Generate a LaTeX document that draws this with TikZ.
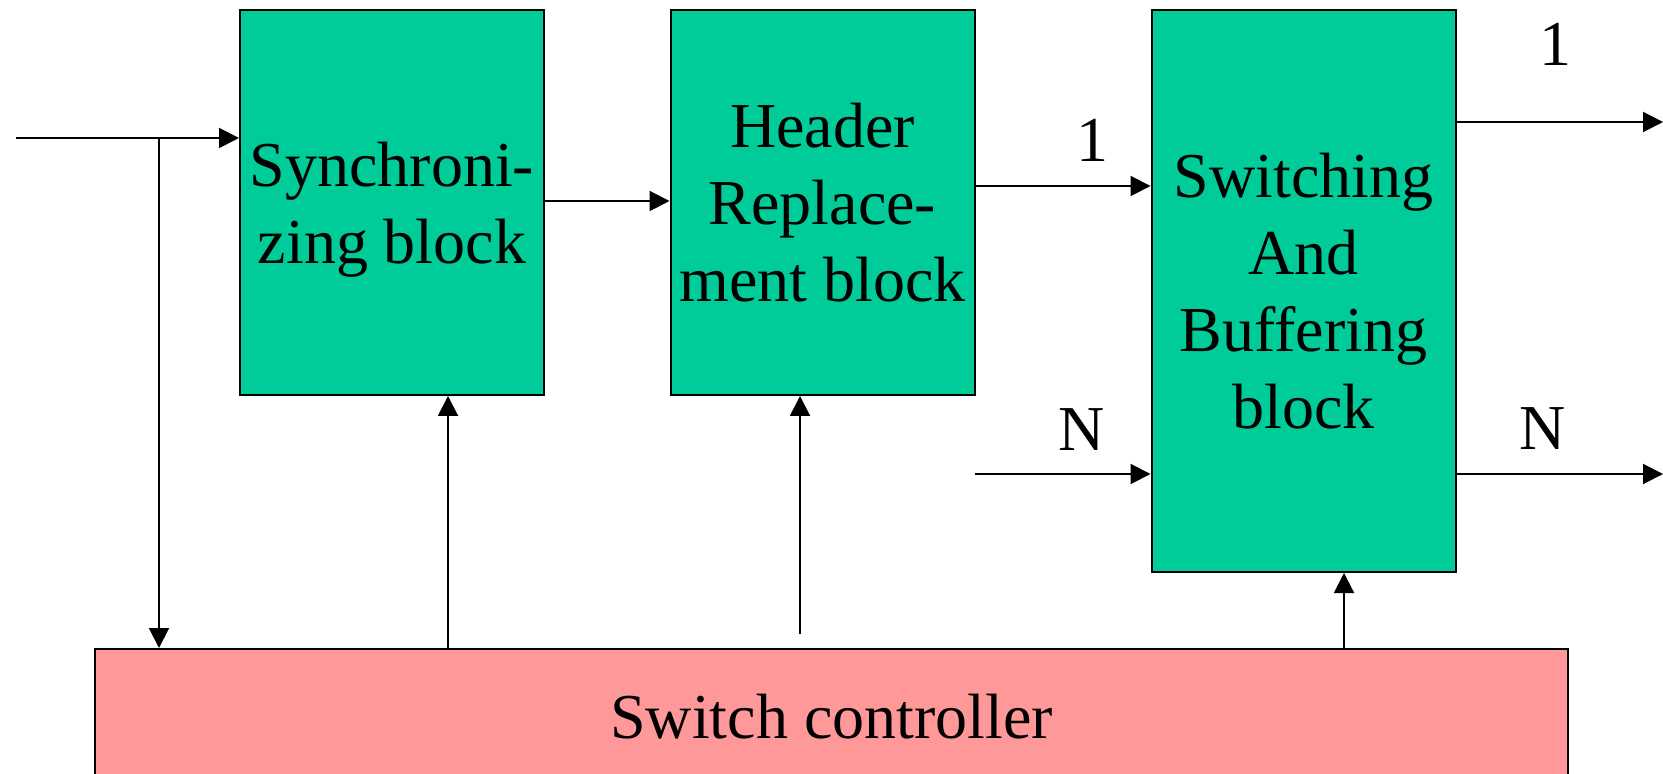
\documentclass[tikz,border=0pt]{standalone}
\usepackage{fontspec}
\setmainfont{Liberation Serif}
\usetikzlibrary{arrows.meta}
\definecolor{blockgreen}{RGB}{0,204,153}
\definecolor{ctrlpink}{RGB}{255,153,153}
\begin{document}
\begin{tikzpicture}[x=0.5pt, y=-0.5pt,
  font=\fontsize{32pt}{38.5pt}\selectfont,
  blk/.style={draw, line width=1pt, fill=blockgreen, minimum width=152pt, align=center, inner sep=0pt, text depth=0pt},
  arr/.style={-{Triangle[length=10pt, width=10pt]}, line width=1pt}]
\useasboundingbox (0,0) rectangle (1663,774);
% Blocks
\node[blk, minimum height=192.5pt] (sync) at (392,202.5) {Synchroni-\\zing block};
\node[blk, minimum height=192.5pt] (hdr) at (822.5,202.5) {Header\\Replace-\\ment block};
\node[blk, minimum height=281pt] (sw) at (1303.5,291) {Switching\\And\\Buffering\\block};
\node[draw, line width=1pt, fill=ctrlpink, minimum width=736.5pt, minimum height=67.5pt] (ctrl) at (831.5,716.5) {Switch controller};

% Labels
\node (lblin1) at (1092,140) {1};
\node (lblinN) at (1082,430) {N};
\node (lblout1) at (1555,44) {1};
\node (lbloutN) at (1543,429) {N};

% Arrows
\coordinate (in) at (16,138);
\coordinate (split) at (159,138);
\draw[arr] (in) -- (in -| sync.west);
\draw[arr] (split) -- (split |- ctrl.north);
\draw[arr] (sync.east |- 0,201) -- (hdr.west |- 0,201);
\draw[arr] (hdr.east |- 0,186) -- (sw.west |- 0,186);
\coordinate (inN) at (975,474);
\draw[arr] (inN) -- (inN -| sw.west);
\coordinate (out1) at (1663,122);
\coordinate (outN) at (1663,474);
\draw[arr] (sw.east |- out1) -- (out1);
\draw[arr] (sw.east |- outN) -- (outN);

\draw[arr] (ctrl.north -| 448,0) -- (sync.south -| 448,0);
\coordinate (hdrfeed) at (800,634);
\draw[arr] (hdrfeed) -- (hdrfeed |- hdr.south);
\draw[arr] (ctrl.north -| 1344,0) -- (sw.south -| 1344,0);
\end{tikzpicture}
\end{document}
